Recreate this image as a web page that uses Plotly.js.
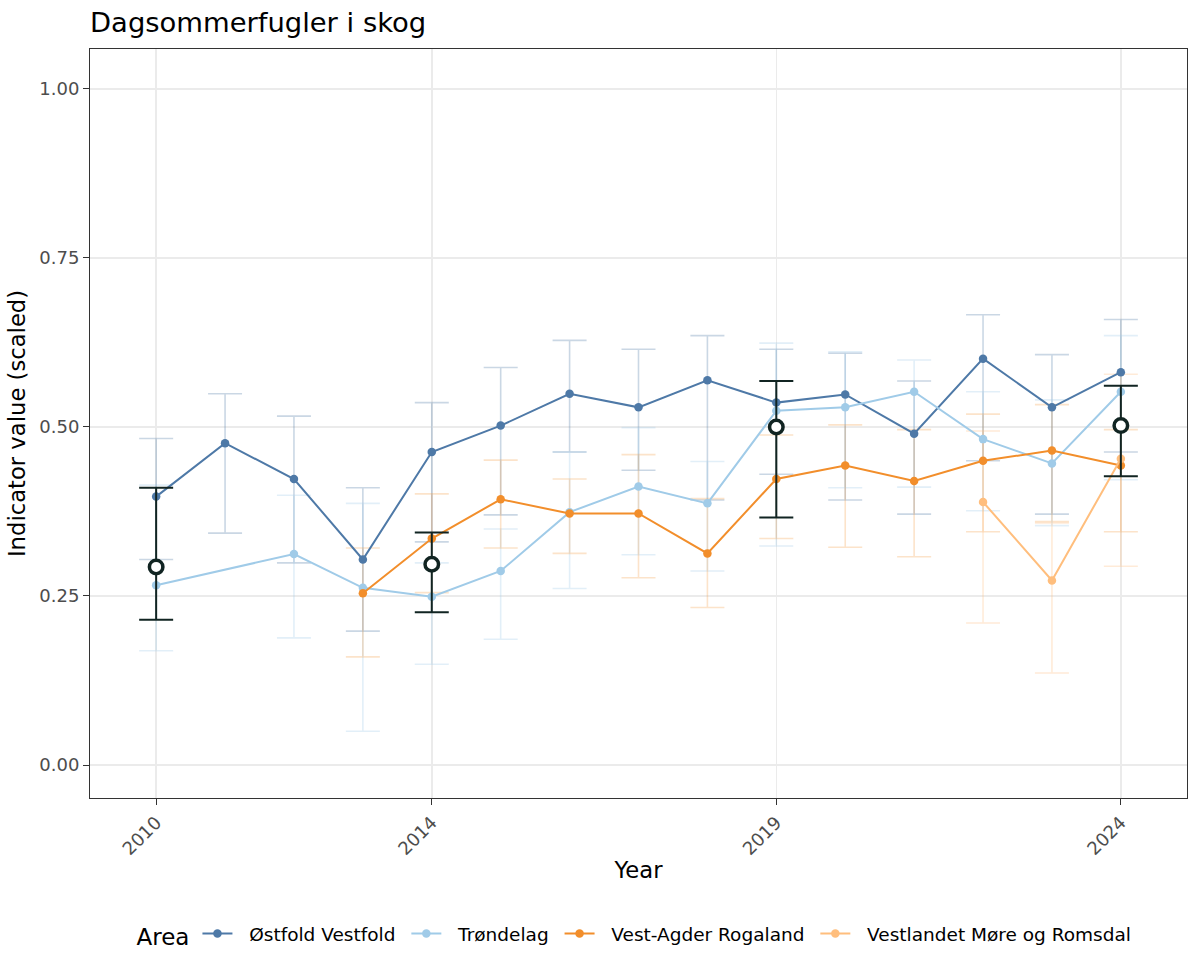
<!DOCTYPE html>
<html>
<head>
<meta charset="utf-8">
<script src="https://cdn.plot.ly/plotly-3.0.1.min.js"></script>
<style>html,body{margin:0;padding:0;background:#fff;}#chart{width:1200px;height:975px;}</style>
</head>
<body>
<div id="chart"></div>
<script>
// Østfold Vestfold
const ostYears = [2010,2011,2012,2013,2014,2015,2016,2017,2018,2019,2020,2021,2022,2023,2024];
const ostVal = [0.397,0.476,0.423,0.304,0.463,0.502,0.549,0.529,0.569,0.536,0.548,0.490,0.601,0.529,0.581];
const ostUp  = [0.483,0.549,0.516,0.410,0.536,0.588,0.628,0.615,0.635,0.615,0.609,0.568,0.666,0.607,0.659];
const ostLo  = [0.304,0.343,0.299,0.198,0.330,0.370,0.463,0.436,0.392,0.430,0.392,0.371,0.450,0.371,0.463];
// Trøndelag
const trdYears = [2010,2012,2013,2014,2015,2016,2017,2018,2019,2020,2021,2022,2023,2024];
const trdVal = [0.266,0.312,0.262,0.249,0.287,0.374,0.412,0.387,0.524,0.529,0.552,0.482,0.446,0.552];
const trdUp  = [0.414,0.399,0.387,0.299,0.349,0.463,0.499,0.449,0.624,0.611,0.599,0.552,0.540,0.635];
const trdLo  = [0.169,0.188,0.050,0.149,0.186,0.261,0.311,0.287,0.324,0.410,0.411,0.376,0.354,0.422];
// Vest-Agder Rogaland
const vaYears = [2013,2014,2015,2016,2017,2018,2019,2020,2021,2022,2023,2024];
const vaVal = [0.254,0.335,0.393,0.372,0.372,0.313,0.423,0.443,0.420,0.450,0.465,0.443];
const vaUp  = [0.321,0.401,0.451,0.423,0.459,0.394,0.488,0.503,0.496,0.519,0.533,0.496];
const vaLo  = [0.160,0.255,0.321,0.313,0.277,0.233,0.335,0.322,0.308,0.345,0.360,0.345];
// Vestlandet Møre og Romsdal
const vlYears = [2022,2023,2024];
const vlVal = [0.389,0.273,0.453];
const vlUp  = [0.494,0.358,0.578];
const vlLo  = [0.210,0.136,0.294];
// Overall
const allYears = [2010,2014,2019,2024];
const allVal = [0.293,0.297,0.500,0.502];
const allUp  = [0.410,0.344,0.568,0.561];
const allLo  = [0.215,0.226,0.366,0.427];

const xTicks = [2010,2014,2019,2024];
const yTicks = [0,0.25,0.5,0.75,1.0];
const yTickText = ["0.00","0.25","0.50","0.75","1.00"];
const areaNames = ["Østfold Vestfold","Trøndelag","Vest-Agder Rogaland","Vestlandet Møre og Romsdal"];

const series = [
  {name:areaNames[0], x:ostYears, y:ostVal, up:ostUp, lo:ostLo, color:"#4E79A7", ecol:"rgba(78,121,167,0.3)"},
  {name:areaNames[1], x:trdYears, y:trdVal, up:trdUp, lo:trdLo, color:"#A0CBE8", ecol:"rgba(160,203,232,0.3)"},
  {name:areaNames[2], x:vaYears, y:vaVal, up:vaUp, lo:vaLo, color:"#F28E2B", ecol:"rgba(242,142,43,0.25)"},
  {name:areaNames[3], x:vlYears, y:vlVal, up:vlUp, lo:vlLo, color:"#FFBE7D", ecol:"rgba(255,190,125,0.3)"}
];

const traces = [];
series.forEach(s => {
  traces.push({
    type:"scatter", mode:"markers", x:s.x, y:s.y, showlegend:false, hoverinfo:"skip",
    marker:{size:1, opacity:0},
    error_y:{type:"data", symmetric:false,
      array:s.up.map((u,i)=>u-s.y[i]), arrayminus:s.lo.map((l,i)=>s.y[i]-l),
      color:s.ecol, thickness:1.6, width:17}
  });
});
series.forEach(s => {
  traces.push({
    type:"scatter", mode:"lines+markers", name:"\u00A0\u00A0" + s.name + "\u00A0", x:s.x, y:s.y,
    line:{color:s.color, width:2}, marker:{color:s.color, size:8.5}
  });
});
traces.push({
  type:"scatter", mode:"markers", x:allYears, y:allVal, showlegend:false,
  marker:{size:13.5, color:"#ffffff", line:{color:"#112422", width:3.5}},
  error_y:{type:"data", symmetric:false,
    array:allUp.map((u,i)=>u-allVal[i]), arrayminus:allLo.map((l,i)=>allVal[i]-l),
    color:"#112422", thickness:2, width:17}
});

const layout = {
  width:1200, height:975,
  margin:{l:90, r:13, t:49, b:177},
  paper_bgcolor:"#ffffff", plot_bgcolor:"#ffffff",
  font:{family:"DejaVu Sans", color:"#000000"},
  title:{text:"Dagsommerfugler i skog", x:0.075, xanchor:"left", y:0.977, yanchor:"middle",
    font:{size:27.4, color:"#000000", family:"DejaVu Sans"}},
  xaxis:{
    range:[2009.04, 2024.96], tickvals:xTicks, ticktext:xTicks.map(String),
    tickangle:-45, ticks:"outside", ticklen:6, tickwidth:1, tickcolor:"#333333",
    tickfont:{size:18, color:"#4D4D4D"},
    showgrid:true, gridcolor:"#EBEBEB", gridwidth:1.5, zeroline:false,
    showline:true, linecolor:"#333333", linewidth:1, mirror:true,
    title:{text:"Year", font:{size:22.7, color:"#000000"}, standoff:3}
  },
  yaxis:{
    range:[-0.0488, 1.059], tickvals:yTicks, ticktext:yTickText,
    ticks:"outside", ticklen:6, tickwidth:1, tickcolor:"#333333",
    tickfont:{size:18, color:"#4D4D4D"},
    showgrid:true, gridcolor:"#EBEBEB", gridwidth:1.5, zeroline:false,
    showline:true, linecolor:"#333333", linewidth:1, mirror:true,
    title:{text:"Indicator value (scaled)", font:{size:22.7, color:"#000000"}, standoff:7}
  },
  legend:{orientation:"h", x:0.5, xanchor:"center", y:-0.183, yanchor:"middle",
    font:{size:18.5, color:"#000000"},
    title:{text:"Area", side:"left", font:{size:23, color:"#000000"}},
    itemwidth:30, tracegroupgap:0, bgcolor:"rgba(0,0,0,0)"},
  showlegend:true
};

Plotly.newPlot("chart", traces, layout, {displayModeBar:false, staticPlot:true});
</script>
</body>
</html>
